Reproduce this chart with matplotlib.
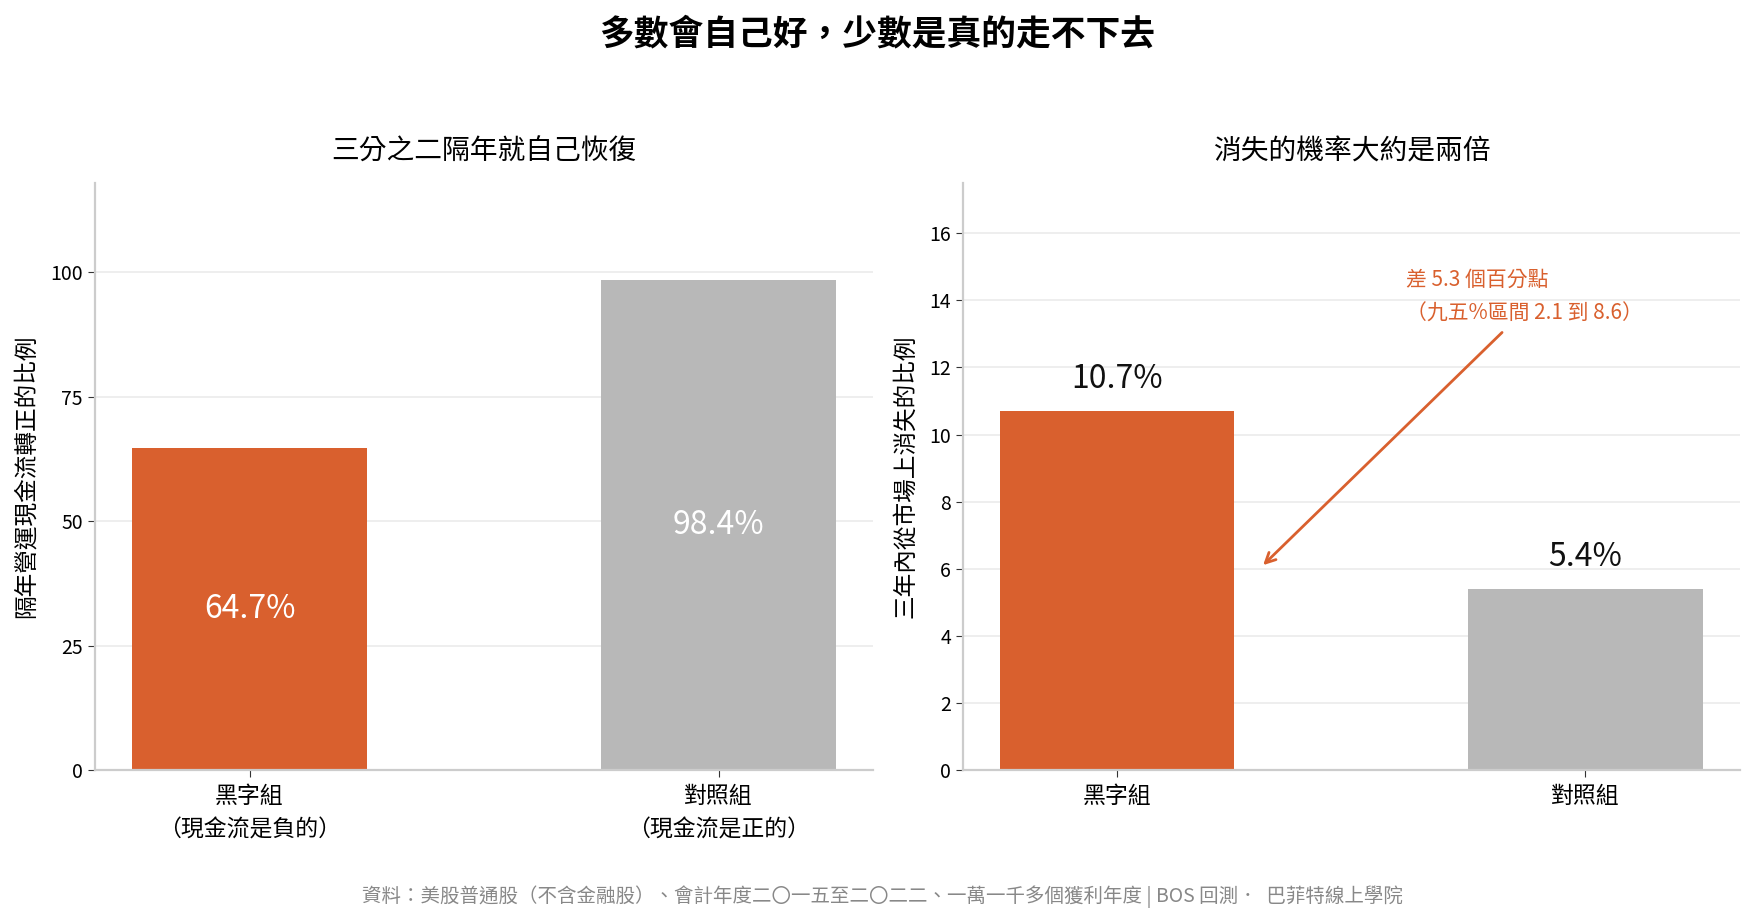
import matplotlib
matplotlib.use("Agg")
import matplotlib.pyplot as plt

plt.rcParams['font.family'] = ['Noto Sans CJK TC', 'DejaVu Sans']

# Data
groups_left = ['黑字組\n（現金流是負的）', '對照組\n（現金流是正的）']
recovery = [64.7, 98.4]  # % turning positive next year
groups_right = ['黑字組', '對照組']
vanish = [10.7, 5.4]  # % disappearing within 3 years
bar_colors = ['#D9602E', '#B8B8B8']
left_ticks = [0, 25, 50, 75, 100]
right_ticks = [0, 2, 4, 6, 8, 10, 12, 14, 16]

fig = plt.figure(figsize=(17.54, 9.19), dpi=100)
ax1 = fig.add_axes([0.054, 0.162, 0.444, 0.639])
ax2 = fig.add_axes([0.549, 0.162, 0.443, 0.639])


def style(ax):
    for s in ['top', 'right']:
        ax.spines[s].set_visible(False)
    for s in ['left', 'bottom']:
        ax.spines[s].set_color('#CCCCCC')
        ax.spines[s].set_linewidth(1.6)
    ax.grid(axis='y', color='#EBEBEB', linewidth=1.2)
    ax.set_axisbelow(True)
    ax.tick_params(axis='y', labelsize=14, length=5, color='#333333')
    ax.tick_params(axis='x', labelsize=16.5, length=5, color='#333333', pad=6)
    ax.set_xlim(-0.33, 1.33)


# Left panel
x = range(len(recovery))
ax1.bar(x, recovery, width=0.5, color=bar_colors)
style(ax1)
ax1.set_ylim(0, 118)
ax1.set_yticks(left_ticks)
ax1.set_xticks(list(x))
ax1.set_xticklabels(groups_left, linespacing=1.55)
ax1.set_ylabel('隔年營運現金流轉正的比例', fontsize=17, labelpad=9)
ax1.set_title('三分之二隔年就自己恢復', fontsize=20, pad=17)
for i, v in enumerate(recovery):
    ax1.text(i, v / 2, f'{v}%', ha='center', va='center', color='white', fontsize=23)

# Right panel
x = range(len(vanish))
ax2.bar(x, vanish, width=0.5, color=bar_colors)
style(ax2)
ax2.set_ylim(0, 17.5)
ax2.set_yticks(right_ticks)
ax2.set_xticks(list(x))
ax2.set_xticklabels(groups_right)
ax2.set_ylabel('三年內從市場上消失的比例', fontsize=17, labelpad=9)
ax2.set_title('消失的機率大約是兩倍', fontsize=20, pad=17)
for i, v in enumerate(vanish):
    ax2.text(i, v + 0.95, f'{v}%', ha='center', va='center', color='#111111', fontsize=23)

ax2.annotate('', xy=(0.307, 6.05), xytext=(0.826, 13.1),
             arrowprops=dict(arrowstyle='->', color='#D9602E', lw=2, mutation_scale=18))
ax2.text(0.617, 14.6, '差 5.3 個百分點', color='#D9602E', fontsize=15, ha='left', va='center')
ax2.text(0.617, 13.6, '（九五%區間 2.1 到 8.6）', color='#D9602E', fontsize=15, ha='left', va='center')

fig.suptitle('多數會自己好，少數是真的走不下去', fontsize=25, fontweight='bold', y=0.982)
fig.text(0.503, 0.024, '資料：美股普通股（不含金融股）、會計年度二〇一五至二〇二二、一萬一千多個獲利年度 | BOS 回測．  巴菲特線上學院',
         ha='center', va='center', fontsize=14, color='#888888')

fig.savefig('out.png', dpi=100)
